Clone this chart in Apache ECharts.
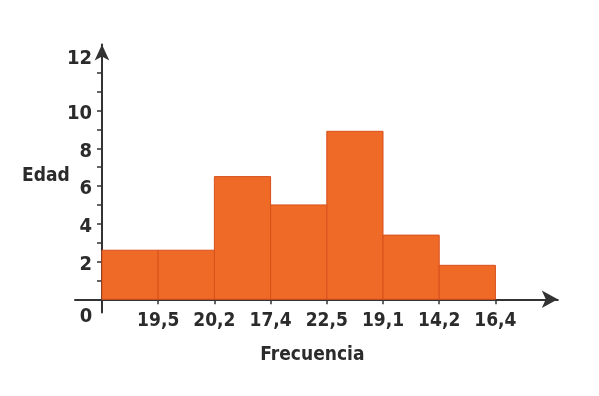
<!DOCTYPE html>
<html>
<head>
<meta charset="utf-8">
<script src="https://cdn.jsdelivr.net/npm/echarts@6/dist/echarts.min.js"></script>
<style>
html,body{margin:0;padding:0;background:#fff;}
#chart{width:599px;height:396px;}
</style>
</head>
<body>
<div id="chart"></div>
<script>
// Data
const boundaryLabels = ['19,5', '20,2', '17,4', '22,5', '19,1', '14,2', '16,4'];
const barValues = [2.6, 2.6, 6.5, 5.0, 8.9, 3.4, 1.8];
const yTickLabels = [2, 4, 6, 8, 10, 12];
const yTicks = [0, 1, 2, 3, 4, 5, 6, 7, 8, 9, 10, 11, 12];
const xTicks = [0, 1, 2, 3, 4, 5, 6, 7];
const xAxisTitle = 'Frecuencia';
const yAxisTitle = 'Edad';

const FONT = "'Liberation Sans Narrow', 'DejaVu Sans Condensed', 'Roboto', sans-serif";
const TXT = '#2b2b2b';
const AX = '#333333';

const chart = echarts.init(document.getElementById('chart'), null, {renderer: 'canvas'});

const barData = barValues.map((v, i) => [i, i + 1, v]);

chart.setOption({
  backgroundColor: '#ffffff',
  animation: false,
  grid: {left: 75, right: 41.2, top: 44.5, bottom: 83.5, containLabel: false},
  xAxis: {
    type: 'value',
    min: -0.48,
    max: 8.11,
    splitLine: {show: false},
    axisLine: {
      show: true, onZero: true,
      symbol: ['none', 'arrow'], symbolSize: [13, 16],
      lineStyle: {color: AX, width: 2}
    },
    axisTick: {show: true, customValues: xTicks, length: 5, lineStyle: {color: AX, width: 1.5}},
    axisLabel: {
      customValues: xTicks,
      margin: -6,
      color: TXT, fontFamily: FONT, fontWeight: 'bold', fontSize: 19,
      formatter: v => v === 0 ? '{zero|0}' : '{n|' + boundaryLabels[v - 1] + '}',
      rich: {
        n: {padding: [5, 0, 0, 0], color: TXT, fontFamily: FONT, fontWeight: 'bold', fontSize: 19},
        zero: {padding: [0, 32, 0, 0], color: TXT, fontFamily: FONT, fontWeight: 'bold', fontSize: 20}
      }
    },
    name: xAxisTitle,
    nameLocation: 'middle',
    nameGap: 33,
    nameTextStyle: {color: TXT, fontFamily: FONT, fontWeight: 'bold', fontSize: 19, padding: [0, 8, 0, 0]}
  },
  yAxis: {
    type: 'value',
    min: -0.7,
    max: 13.5,
    splitLine: {show: false},
    axisLine: {
      show: true, onZero: true,
      symbol: ['none', 'arrow'], symbolSize: [11, 16],
      lineStyle: {color: AX, width: 2}
    },
    axisTick: {show: true, customValues: yTicks, length: 5, lineStyle: {color: AX, width: 1.5}},
    axisLabel: {
      customValues: yTickLabels,
      margin: -17,
      padding: [6, 0, 0, 0],
      color: TXT, fontFamily: FONT, fontWeight: 'bold', fontSize: 20,
      formatter: v => v === 12 ? '{top|12}' : String(v),
      rich: {top: {padding: [0, 0, 34, 0], color: TXT, fontFamily: FONT, fontWeight: 'bold', fontSize: 20}}
    }
  },
  graphic: [{
    type: 'text',
    left: 22,
    top: 167,
    style: {text: yAxisTitle, fill: TXT, font: "bold 19px " + FONT}
  }],
  series: [{
    type: 'custom',
    data: barData,
    encode: {x: [0, 1], y: 2},
    z: 1,
    renderItem: function (params, api) {
      const p0 = api.coord([api.value(0), 0]);
      const p1 = api.coord([api.value(1), api.value(2)]);
      return {
        type: 'rect',
        shape: {x: p0[0], y: p1[1], width: p1[0] - p0[0], height: p0[1] - p1[1]},
        style: {fill: '#EE6A26', stroke: '#D8501C', lineWidth: 1}
      };
    }
  }]
});
</script>
</body>
</html>
